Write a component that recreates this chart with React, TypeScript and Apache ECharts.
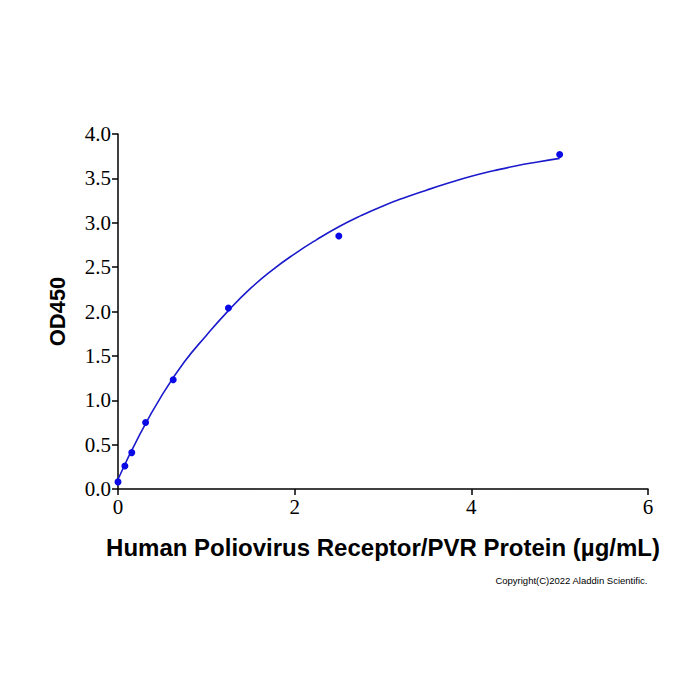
import React, { useEffect, useRef } from "react";
import * as echarts from "echarts";

// Measured concentrations (µg/mL) and OD450 readings
const concentrations = [0, 0.078, 0.156, 0.3125, 0.625, 1.25, 2.5, 5];
const od450 = [0.08, 0.26, 0.41, 0.75, 1.23, 2.04, 2.85, 3.77];

// Fitted curve, sampled every 0.25 µg/mL
const curveX = [0, 0.25, 0.5, 0.75, 1.0, 1.25, 1.5, 1.75, 2.0, 2.25, 2.5, 2.75, 3.0, 3.25, 3.5, 3.75, 4.0, 4.25, 4.5, 4.75, 5.0];
const curveY = [0.11, 0.62, 1.06, 1.43, 1.73, 2.01, 2.26, 2.47, 2.65, 2.81, 2.955, 3.08, 3.19, 3.285, 3.37, 3.45, 3.525, 3.585, 3.64, 3.685, 3.725];

const xTicks = [0, 2, 4, 6];
const yTicks = [0, 0.5, 1, 1.5, 2, 2.5, 3, 3.5, 4];

const BLUE = "#0a0ae6";

export default function App() {
  const ref = useRef<HTMLDivElement>(null);

  useEffect(() => {
    if (!ref.current) return;
    const chart = echarts.init(ref.current, null, { renderer: "svg" });
    chart.setOption({
      animation: false,
      backgroundColor: "#ffffff",
      grid: { left: 118, right: 52, top: 134, bottom: 211, containLabel: false },
      xAxis: {
        type: "value",
        min: xTicks[0],
        max: xTicks[xTicks.length - 1],
        interval: 2,
        name: "Human Poliovirus Receptor/PVR Protein (µg/mL)",
        nameLocation: "middle",
        nameGap: 46,
        nameTextStyle: { fontFamily: "Liberation Sans", fontWeight: "bold", fontSize: 24, color: "#000" },
        axisLine: { show: true, lineStyle: { color: "#000", width: 1.5 } },
        axisTick: { show: true, inside: false, length: 6, lineStyle: { color: "#000", width: 1.5 } },
        axisLabel: { fontFamily: "Liberation Serif", fontSize: 21, color: "#000", margin: 7 },
        splitLine: { show: false },
      },
      yAxis: {
        type: "value",
        min: yTicks[0],
        max: yTicks[yTicks.length - 1],
        interval: 0.5,
        name: "OD450",
        nameLocation: "middle",
        nameGap: 50,
        nameTextStyle: { fontFamily: "Liberation Sans", fontWeight: "bold", fontSize: 22, color: "#000" },
        axisLine: { show: true, lineStyle: { color: "#000", width: 1.5 } },
        axisTick: { show: true, inside: false, length: 6, lineStyle: { color: "#000", width: 1.5 } },
        axisLabel: {
          fontFamily: "Liberation Serif",
          fontSize: 21,
          color: "#000",
          margin: 7,
          formatter: (v: number) => v.toFixed(1),
        },
        splitLine: { show: false },
      },
      series: [
        {
          type: "line",
          data: curveX.map((x, i) => [x, curveY[i]]),
          smooth: true,
          showSymbol: false,
          symbol: "none",
          lineStyle: { color: "#1a1acc", width: 1.6 },
          z: 2,
        },
        {
          type: "scatter",
          data: concentrations.map((x, i) => [x, od450[i]]),
          symbol: "circle",
          symbolSize: 7,
          itemStyle: { color: BLUE, opacity: 1 },
          clip: false,
          z: 3,
        },
      ],
      graphic: [
        {
          type: "text",
          right: 52,
          top: 575,
          style: {
            text: "Copyright(C)2022 Aladdin Scientific.",
            fontFamily: "Liberation Sans",
            fontSize: 9.5,
            fill: "#000",
          },
        },
      ],
    });
    return () => chart.dispose();
  }, []);

  return <div ref={ref} style={{ width: 700, height: 700, position: "absolute", left: 0, top: 0 }} />;
}
